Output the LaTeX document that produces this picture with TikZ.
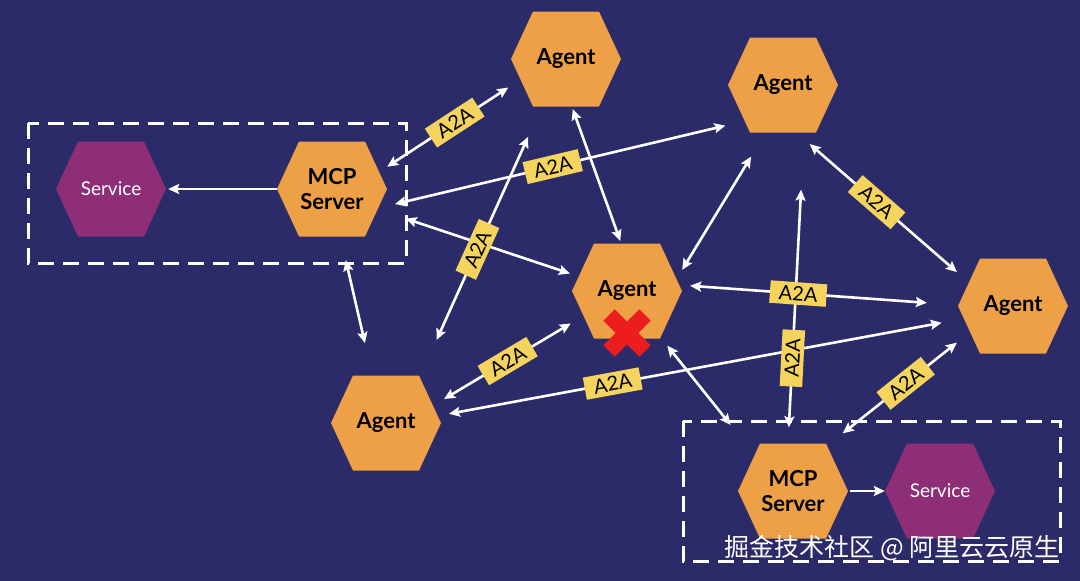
\documentclass[tikz,border=0pt]{standalone}
\usepackage{fontspec}
\setmainfont{Lato}
\newfontfamily\cjkfont{Noto Sans CJK SC}
\usetikzlibrary{arrows.meta}
\definecolor{bgnavy}{HTML}{2C2B69}
\definecolor{hexorange}{HTML}{EDA045}
\definecolor{hexpurple}{HTML}{8E2E76}
\definecolor{tagyellow}{HTML}{F5D45E}
\definecolor{crossred}{HTML}{EC1C1F}
\tikzset{hexbox/.style={rectangle,minimum width=110pt,minimum height=95pt,
  inner sep=0pt,align=center,fill=bgnavy,
  path picture={\fill[#1] (path picture bounding box.west)
  -- ([xshift=22pt]path picture bounding box.north west)
  -- ([xshift=-22pt]path picture bounding box.north east)
  -- (path picture bounding box.east)
  -- ([xshift=-22pt]path picture bounding box.south east)
  -- ([xshift=22pt]path picture bounding box.south west) -- cycle;}},
  agent/.style={hexbox=hexorange,text=black,font=\fontsize{22}{25}\selectfont\bfseries},
  service/.style={hexbox=hexpurple,text=white,font=\fontsize{19}{23}\selectfont},
  tag/.style={fill=tagyellow,text=black,font=\fontsize{20}{20}\selectfont,sloped,
  inner xsep=9pt,inner ysep=4pt},
  link/.style={{Stealth[length=11pt,width=10pt,inset=2pt]}-{Stealth[length=11pt,width=10pt,inset=2pt]},
  line width=2.6pt,draw=white},
  oneway/.style={-{Stealth[length=11pt,width=10pt,inset=2pt]},line width=2.6pt,draw=white},
  groupbox/.style={draw=white,line width=3pt,dash pattern=on 16pt off 9pt},
  xmark/.style={draw=crossred,line width=16pt}}

\begin{document}
\begin{tikzpicture}[x=1pt,y=-1pt]
\fill[bgnavy] (0,0) rectangle (1080,581);
% frames round the two MCP servers
\draw[groupbox] (28,123) rectangle (406,263);
\draw[groupbox] (683,421) rectangle (1060,561);
% hexagons
\node[agent] (agtop) at (566,59) {Agent};
\node[agent] (agtopr) at (783,85) {Agent};
\node[agent] (agmid) at (627,291) {Agent};
\node[agent] (agright) at (1013,306) {Agent};
\node[agent] (aglow) at (386,423) {Agent};
\node[agent] (mcpl) at (332,189) {MCP\\Server};
\node[agent] (mcpr) at (793,491) {MCP\\Server};
\node[service] (svcl) at (111,189) {Service};
\node[service] (svcr) at (940,491) {Service};
\draw[xmark] (609,315) -- (645,351) (609,351) -- (645,315);
% MCP to service
\draw[oneway,shorten >=2pt] (mcpl.west) -- (svcl.east);
\draw[oneway,shorten <=2pt] (mcpr.east) -- (svcr.west);
% plain links
\draw[link,shorten <=19.5pt,shorten >=2pt] (mcpl.337) -- (agmid.163);
\draw[link,shorten <=24pt,shorten >=33pt] (mcpl.280) -- (aglow.106);
\draw[link,shorten <=2.6pt,shorten >=2.6pt] (agtop.277) -- (agmid.97);
\draw[link,shorten >=28pt] (agmid.21) -- (agtopr.250);
\draw[link,shorten <=9pt,shorten >=23.5pt] (agmid.306) -- (mcpr.135);
% A2A links
\draw[link,shorten >=3pt] (mcpl.22) -- node[tag,pos=0.546]{A2A} (agtop.206);
\draw[link,shorten <=8pt,shorten >=2.5pt] (mcpl.343) -- node[tag,pos=0.486]{A2A} (agtopr.216);
\draw[link,shorten <=8pt,shorten >=16.4pt] (aglow.8) -- node[tag,pos=0.332]{A2A} (agright.194);
\draw[link,shorten <=38.8pt,shorten >=33pt] (aglow.54) -- node[tag,pos=0.469]{A2A} (agtop.243);
\draw[link,shorten <=3.3pt,shorten >=1.2pt] (aglow.22) -- node[tag,pos=0.509]{A2A} (agmid.210);
\draw[link,shorten <=16pt,shorten >=57pt] ([xshift=-5pt]mcpr.north) -- node[tag,pos=0.274]{A2A} ([xshift=21pt]agtopr.south);
\draw[link,shorten <=8pt,shorten >=31pt] (agmid.6) -- node[tag,pos=0.421]{A2A} (agright.179);
\draw[link,shorten <=17.3pt,shorten >=1.1pt] (agtopr.286) -- node[tag,pos=0.496]{A2A} (agright.149);
\draw[link,shorten <=16pt,shorten >=1.2pt] (mcpr.52) -- node[tag,pos=0.591]{A2A} (agright.213);
% watermark
\node[font=\cjkfont\fontsize{25}{25}\selectfont,text=white] (mark) at (892,548) {掘金技术社区 @ 阿里云云原生};
\end{tikzpicture}
\end{document}
